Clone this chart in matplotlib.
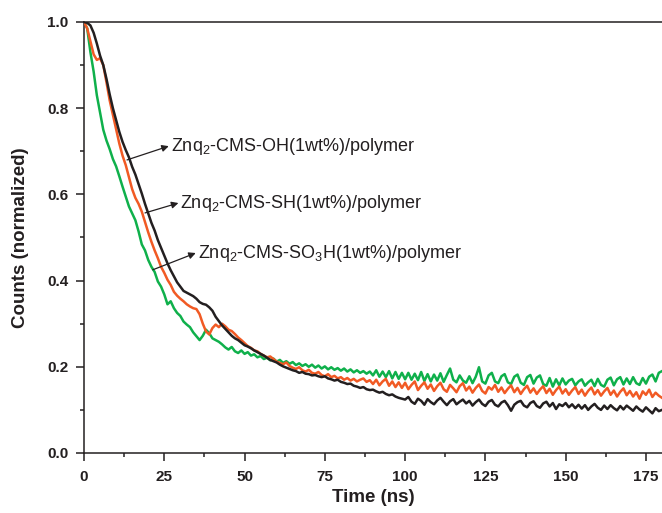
import numpy as np
import matplotlib
matplotlib.use("Agg")
import matplotlib.pyplot as plt
from matplotlib.ticker import MultipleLocator, FormatStrFormatter

plt.rcParams["font.family"] = ["Liberation Sans", "DejaVu Sans"]
plt.rcParams["mathtext.default"] = "regular"

# time axis, 1 ns steps
time_ns = list(range(0, 181))

# Znq2-CMS-OH(1wt%)/polymer (black)
oh = [1.000, 0.998, 0.992, 0.975, 0.950, 0.922, 0.900, 0.868, 0.832, 0.800,
      0.772, 0.745, 0.722, 0.703, 0.686, 0.664, 0.646, 0.624, 0.602, 0.578,
      0.556, 0.534, 0.516, 0.494, 0.476, 0.458, 0.440, 0.424, 0.410, 0.396,
      0.386, 0.376, 0.372, 0.368, 0.364, 0.358, 0.350, 0.346, 0.344, 0.338,
      0.330, 0.316, 0.306, 0.296, 0.288, 0.280, 0.272, 0.266, 0.262, 0.256,
      0.250, 0.247, 0.243, 0.238, 0.234, 0.230, 0.226, 0.221, 0.216, 0.213,
      0.210, 0.205, 0.201, 0.198, 0.195, 0.192, 0.190, 0.186, 0.188, 0.184,
      0.183, 0.180, 0.181, 0.178, 0.176, 0.178, 0.173, 0.171, 0.168, 0.170,
      0.165, 0.163, 0.160, 0.161, 0.156, 0.154, 0.151, 0.153, 0.148, 0.146,
      0.147, 0.143, 0.140, 0.142, 0.137, 0.134, 0.136, 0.131, 0.128, 0.126,
      0.124, 0.130, 0.119, 0.114, 0.126, 0.121, 0.112, 0.125, 0.118, 0.113,
      0.122, 0.128, 0.119, 0.111, 0.120, 0.125, 0.113, 0.119, 0.124, 0.115,
      0.121, 0.110, 0.118, 0.124, 0.114, 0.109, 0.119, 0.123, 0.112, 0.108,
      0.117, 0.121, 0.111, 0.098, 0.112, 0.118, 0.121, 0.110, 0.106, 0.116,
      0.120, 0.109, 0.105, 0.115, 0.119, 0.108, 0.116, 0.102, 0.113, 0.109,
      0.116, 0.106, 0.113, 0.104, 0.112, 0.103, 0.111, 0.100, 0.108, 0.114,
      0.105, 0.100, 0.110, 0.102, 0.111, 0.104, 0.099, 0.109, 0.101, 0.110,
      0.104, 0.098, 0.108, 0.101, 0.096, 0.106, 0.099, 0.092, 0.104, 0.097,
      0.100]

# Znq2-CMS-SH(1wt%)/polymer (orange-red)
sh = [1.000, 0.985, 0.955, 0.925, 0.912, 0.916, 0.900, 0.860, 0.818, 0.785,
      0.752, 0.718, 0.690, 0.668, 0.640, 0.612, 0.592, 0.578, 0.560, 0.536,
      0.512, 0.490, 0.470, 0.452, 0.432, 0.418, 0.402, 0.390, 0.374, 0.365,
      0.358, 0.352, 0.345, 0.340, 0.336, 0.334, 0.322, 0.300, 0.282, 0.275,
      0.290, 0.298, 0.292, 0.300, 0.294, 0.286, 0.283, 0.276, 0.268, 0.262,
      0.255, 0.248, 0.244, 0.238, 0.236, 0.230, 0.226, 0.222, 0.224, 0.218,
      0.212, 0.209, 0.206, 0.210, 0.202, 0.198, 0.195, 0.199, 0.192, 0.189,
      0.193, 0.186, 0.184, 0.188, 0.181, 0.178, 0.183, 0.176, 0.179, 0.173,
      0.176, 0.170, 0.174, 0.168, 0.172, 0.166, 0.170, 0.173, 0.165, 0.169,
      0.160, 0.170, 0.157, 0.166, 0.172, 0.156, 0.166, 0.153, 0.164, 0.151,
      0.163, 0.148, 0.158, 0.166, 0.146, 0.156, 0.164, 0.149, 0.159, 0.144,
      0.155, 0.163, 0.148, 0.142, 0.158, 0.150, 0.141, 0.155, 0.162, 0.145,
      0.154, 0.140, 0.151, 0.159, 0.144, 0.138, 0.153, 0.147, 0.158, 0.142,
      0.152, 0.139, 0.149, 0.157, 0.141, 0.151, 0.137, 0.148, 0.156, 0.140,
      0.150, 0.137, 0.147, 0.155, 0.139, 0.149, 0.135, 0.146, 0.154, 0.138,
      0.148, 0.135, 0.145, 0.153, 0.137, 0.147, 0.133, 0.144, 0.152, 0.136,
      0.146, 0.133, 0.143, 0.151, 0.135, 0.145, 0.131, 0.142, 0.150, 0.134,
      0.144, 0.131, 0.141, 0.126, 0.143, 0.135, 0.147, 0.130, 0.140, 0.133,
      0.128]

# Znq2-CMS-SO3H(1wt%)/polymer (green)
so3h = [1.000, 0.985, 0.930, 0.885, 0.830, 0.790, 0.750, 0.725, 0.705, 0.682,
        0.665, 0.642, 0.618, 0.595, 0.572, 0.556, 0.540, 0.514, 0.484, 0.470,
        0.448, 0.432, 0.420, 0.398, 0.386, 0.368, 0.345, 0.352, 0.336, 0.325,
        0.318, 0.305, 0.298, 0.292, 0.280, 0.271, 0.262, 0.272, 0.286, 0.278,
        0.266, 0.262, 0.258, 0.252, 0.245, 0.240, 0.246, 0.236, 0.232, 0.238,
        0.230, 0.234, 0.226, 0.229, 0.222, 0.225, 0.218, 0.221, 0.215, 0.219,
        0.212, 0.216, 0.209, 0.213, 0.207, 0.211, 0.204, 0.208, 0.202, 0.206,
        0.200, 0.205, 0.198, 0.203, 0.196, 0.201, 0.194, 0.199, 0.193, 0.197,
        0.191, 0.196, 0.189, 0.194, 0.187, 0.192, 0.186, 0.190, 0.184, 0.189,
        0.180, 0.192, 0.177, 0.189, 0.176, 0.190, 0.173, 0.188, 0.172, 0.186,
        0.171, 0.186, 0.170, 0.184, 0.169, 0.188, 0.167, 0.183, 0.166, 0.182,
        0.168, 0.185, 0.165, 0.181, 0.196, 0.170, 0.164, 0.180, 0.168, 0.163,
        0.178, 0.162, 0.177, 0.199, 0.166, 0.161, 0.180, 0.186, 0.166, 0.162,
        0.178, 0.183, 0.164, 0.160, 0.177, 0.182, 0.163, 0.158, 0.176, 0.181,
        0.161, 0.175, 0.180, 0.160, 0.156, 0.174, 0.154, 0.171, 0.157, 0.173,
        0.159, 0.168, 0.172, 0.157, 0.166, 0.171, 0.156, 0.164, 0.170, 0.155,
        0.172, 0.158, 0.154, 0.170, 0.175, 0.157, 0.171, 0.176, 0.159, 0.173,
        0.160, 0.176, 0.162, 0.158, 0.174, 0.161, 0.177, 0.182, 0.166, 0.186,
        0.190]

labels = [r"Znq$_2$-CMS-OH(1wt%)/polymer",
          r"Znq$_2$-CMS-SH(1wt%)/polymer",
          r"Znq$_2$-CMS-SO$_3$H(1wt%)/polymer"]
# arrow tail (on curve), text position
arrow_from = [(13.4, 0.680), (19.0, 0.557), (21.4, 0.425)]
text_at = [(27.0, 0.712), (30.0, 0.580), (35.4, 0.464)]

ink = "#231f20"

fig = plt.figure(figsize=(6.62, 5.13), dpi=100)
ax = fig.add_axes([84 / 662, 60 / 513, 578 / 662, 431 / 513])

ax.plot(time_ns, so3h, color="#0fb04b", lw=1.8, zorder=2)
ax.plot(time_ns, sh, color="#f15a24", lw=1.8, zorder=3)
ax.plot(time_ns, oh, color=ink, lw=1.8, zorder=4)

for lab, (x0, y0), (x1, y1) in zip(labels, arrow_from, text_at):
    ax.annotate("", xy=(x1 - 0.6, y1), xytext=(x0, y0),
                arrowprops=dict(arrowstyle="-|>", color=ink, lw=0.9,
                                mutation_scale=10, shrinkA=0, shrinkB=0))
    ax.text(x1, y1, lab, fontsize=13, color=ink, va="center", ha="left")

ax.set_xlim(0, 180)
ax.set_ylim(0, 1.0)
ax.xaxis.set_major_locator(MultipleLocator(25))
ax.xaxis.set_minor_locator(MultipleLocator(12.5))
ax.yaxis.set_major_locator(MultipleLocator(0.2))
ax.yaxis.set_minor_locator(MultipleLocator(0.1))
ax.yaxis.set_major_formatter(FormatStrFormatter("%.1f"))
ax.tick_params(which="major", direction="out", length=6, width=1.1,
               color=ink, labelcolor=ink, labelsize=11)
ax.tick_params(which="minor", direction="out", length=3, width=1.1, color=ink)
ax.tick_params(axis="x", pad=6)
ax.tick_params(axis="y", pad=5)
for t in ax.get_xticklabels() + ax.get_yticklabels():
    t.set_fontweight("bold")

ax.spines["right"].set_visible(False)
for s in ["left", "bottom", "top"]:
    ax.spines[s].set_linewidth(1.1)
    ax.spines[s].set_color(ink)

ax.set_xlabel("Time (ns)", fontsize=13.5, fontweight="bold", color=ink, labelpad=4)
ax.set_ylabel("Counts (normalized)", fontsize=13.5, fontweight="bold", color=ink,
              labelpad=13)

fig.savefig("out.png", dpi=100)
